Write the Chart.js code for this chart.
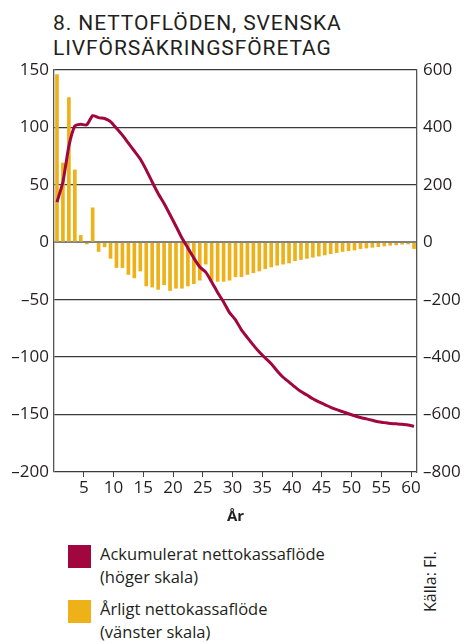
<!DOCTYPE html>
<html lang="sv">
<head>
<meta charset="UTF-8" />
<title>Nettoflöden, svenska livförsäkringsföretag</title>
<script src="https://cdn.jsdelivr.net/npm/chart.js"></script>
<style>
  body { margin: 0; background: #fff; }
  #wrap { position: relative; width: 470px; height: 644px; overflow: hidden; font-family: "Open Sans", sans-serif; color: #231f20; }
  #rubrik { position: absolute; left: 53px; top: 11px; font-family: Roboto, sans-serif; font-weight: 400; font-size: 21px; line-height: 25px; letter-spacing: 0.9px; }
  canvas { position: absolute; left: 0; top: 0; }
  .leg { position: absolute; left: 68px; font-size: 16.5px; line-height: 23px; }
  .leg span.ruta { position: absolute; left: 0; top: 3px; width: 23px; height: 23px; }
  .leg div { margin-left: 32px; }
  #kalla { position: absolute; left: 419px; top: 612px; transform: rotate(-90deg); transform-origin: 0 0; font-size: 16px; white-space: nowrap; }
</style>
</head>
<body>
<div id="wrap">
  <div id="rubrik">8. NETTOFLÖDEN, SVENSKA<br>LIVFÖRSÄKRINGSFÖRETAG</div>
  <canvas id="grafik" width="470" height="530"></canvas>
  <div class="leg" style="top:542px"><span class="ruta" style="background:#a1063f"></span><div>Ackumulerat nettokassaflöde<br>(höger skala)</div></div>
  <div class="leg" style="top:597px"><span class="ruta" style="background:#efb118"></span><div>Årligt nettokassaflöde<br>(vänster skala)</div></div>
  <div id="kalla">Källa: FI.</div>
</div>

<script>
// år 1..61
const ar = Array.from({ length: 61 }, (_, i) => i + 1);

// årligt nettokassaflöde (vänster skala)
const arligt = [146, 69, 126, 63, 6, -1.5, 30, -8, -4, -14,
  -22, -22, -28, -31, -25, -38, -39, -41, -37, -42,
  -40, -40, -38, -36, -33, -19, -33, -34, -34, -33,
  -30, -30, -28, -26.5, -25, -23, -21.5, -20, -19, -18,
  -16, -15, -14, -13, -12, -11, -10, -9, -8, -7.3,
  -6.7, -5.5, -5, -4.4, -3.8, -3.2, -2.6, -2.3, -1.7, -1.5,
  -5.5];

// ackumulerat nettokassaflöde (höger skala)
const ackumulerat = [140, 210, 335, 405, 411, 409, 441, 434, 431, 420,
  397, 373, 345, 318, 290, 252, 210, 170, 135, 96,
  56, 15, -20, -55, -86, -104, -138, -175, -208, -245,
  -270, -305, -332, -358, -382, -403, -423, -448, -470, -487,
  -504, -520, -532, -545, -556, -565, -575, -583, -590, -597,
  -604, -610, -615, -620, -625, -628, -631, -632, -634, -636,
  -641];

const xTicks = [5, 10, 15, 20, 25, 30, 35, 40, 45, 50, 55, 60];

const textFarg = '#231f20';
const tickFont = { family: 'Open Sans', size: 17 };
const minus = v => String(v).replace('-', '–');

new Chart(document.getElementById('grafik'), {
  type: 'bar',
  data: {
    labels: ar,
    datasets: [
      {
        type: 'line',
        label: 'Ackumulerat nettokassaflöde',
        data: ackumulerat,
        yAxisID: 'y1',
        borderColor: '#a1063f',
        borderWidth: 3,
        pointRadius: 0,
        tension: 0.2,
        order: 0
      },
      {
        label: 'Årligt nettokassaflöde',
        data: arligt,
        yAxisID: 'y',
        backgroundColor: '#efb118',
        barThickness: 3,
        order: 1
      }
    ]
  },
  options: {
    responsive: false,
    animation: false,
    layout: { padding: { top: 70, left: 0, right: 0, bottom: 0 } },
    plugins: { legend: { display: false }, tooltip: { enabled: false } },
    scales: {
      x: { type: 'category', display: false, offset: true },
      xt: {
        type: 'linear', position: 'bottom', min: 0, max: 61, offset: false,
        afterBuildTicks: axis => { axis.ticks = xTicks.map(v => ({ value: v })); },
        afterFit: axis => { axis.height = 58; },
        ticks: { font: tickFont, color: textFarg, padding: 1, maxRotation: 0, autoSkip: false },
        grid: { offset: false, drawOnChartArea: false, drawTicks: true, tickLength: 5, color: '#444' },
        border: { display: false },
        title: { display: true, text: 'År', font: { family: 'Open Sans', size: 15, weight: 'bold' }, color: textFarg, padding: { top: 2 } }
      },
      y: {
        position: 'left', min: -200, max: 150,
        ticks: { stepSize: 50, font: tickFont, color: textFarg, padding: 5, callback: minus },
        grid: {
          drawTicks: false,
          color: ctx => ctx.tick && ctx.tick.value === 0 ? '#808080' : '#3a3a3a',
          lineWidth: ctx => ctx.tick && ctx.tick.value === 0 ? 2 : 1.3
        },
        border: { display: true, color: '#555', width: 1.3 },
        afterFit: axis => { axis.width = 54; }
      },
      y1: {
        position: 'right', min: -800, max: 600,
        ticks: { stepSize: 200, font: tickFont, color: textFarg, padding: 6, callback: minus },
        grid: { drawOnChartArea: false, drawTicks: false },
        border: { display: true, color: '#555', width: 1.3 },
        afterFit: axis => { axis.width = 53; }
      }
    }
  }
});
</script>
</body>
</html>
